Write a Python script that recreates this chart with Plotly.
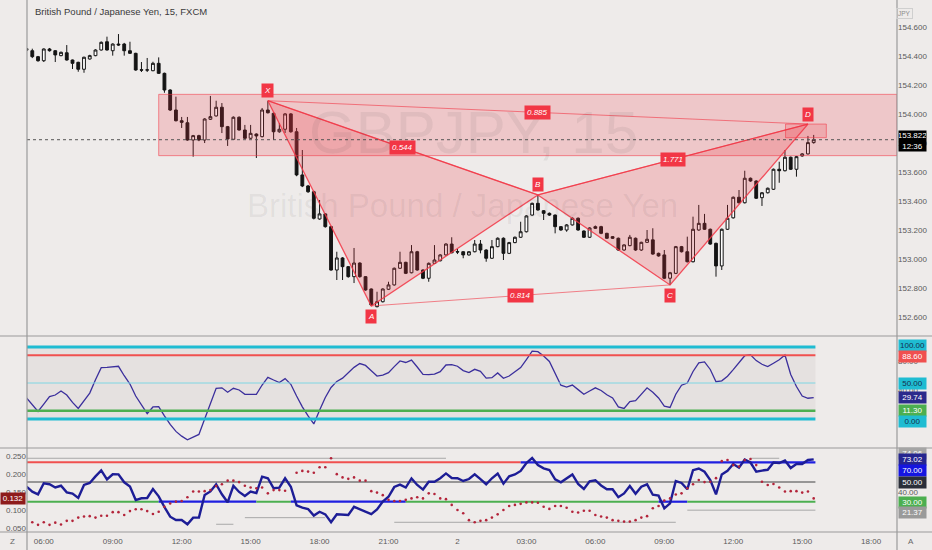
import plotly.graph_objects as go

W, H = 932, 550
BG = "#eeebea"
FONT = "Liberation Sans Narrow, Liberation Sans, Arial, sans-serif"

# ---------------- data ----------------
bar_index = list(range(-1, 137))

opens = [154.450,154.436,154.395,154.367,154.448,154.436,154.402,154.422,154.372,154.356,
         154.308,154.379,154.402,154.441,154.498,154.436,154.482,154.482,154.436,154.418,
         154.305,154.302,154.298,154.349,154.280,154.165,154.027,153.953,153.939,153.820,
         153.850,153.820,153.963,153.986,154.046,153.912,153.825,153.977,153.889,153.832,
         153.861,153.843,154.027,154.004,153.877,153.894,154.000,153.877,153.579,153.503,
         153.463,153.275,153.310,153.222,152.923,153.006,152.946,152.877,152.971,152.877,
         152.792,152.670,152.704,152.790,152.820,152.935,152.976,152.904,153.049,152.923,
         152.866,152.969,152.987,153.027,153.102,153.050,153.049,153.027,153.049,153.102,
         153.061,153.004,153.084,153.142,153.038,153.112,153.149,153.187,153.302,153.383,
         153.332,153.314,153.302,153.222,153.199,153.234,153.280,153.192,153.149,153.222,
         153.222,153.176,153.153,153.142,153.061,153.091,153.142,153.061,153.114,153.131,
         153.038,153.027,152.866,152.900,153.084,153.049,152.980,153.199,153.245,153.204,
         153.107,152.951,153.204,153.283,153.425,153.387,153.556,153.537,153.422,153.456,
         153.480,153.618,153.608,153.701,153.618,153.710,153.724,153.802]
highs = [154.455,154.450,154.400,154.452,154.455,154.440,154.430,154.475,154.375,154.360,
         154.395,154.408,154.446,154.500,154.533,154.487,154.551,154.490,154.498,154.422,
         154.358,154.386,154.360,154.390,154.285,154.170,154.119,153.979,153.979,153.855,
         153.856,153.970,154.124,154.091,154.075,153.917,153.983,153.983,153.924,153.924,
         153.866,154.041,154.091,154.010,153.937,154.006,154.006,153.903,153.751,153.510,
         153.470,153.406,153.315,153.228,153.049,153.012,152.950,153.075,152.976,152.880,
         152.796,152.773,152.796,152.842,152.940,153.049,152.980,153.095,153.055,152.928,
         152.975,153.095,153.032,153.108,153.149,153.068,153.053,153.053,153.130,153.130,
         153.066,153.130,153.148,153.148,153.117,153.154,153.256,153.301,153.388,153.441,
         153.337,153.320,153.306,153.226,153.240,153.286,153.286,153.196,153.218,153.230,
         153.228,153.180,153.157,153.147,153.100,153.165,153.147,153.118,153.199,153.211,
         153.043,153.061,152.910,153.089,153.089,153.153,153.291,153.372,153.310,153.209,
         153.112,153.209,153.372,153.430,153.475,153.608,153.561,153.542,153.461,153.492,
         153.623,153.670,153.751,153.706,153.710,153.730,153.848,153.855]
lows = [154.430,154.385,154.360,154.358,154.430,154.358,154.398,154.368,154.310,154.291,
        154.284,154.375,154.398,154.437,154.437,154.402,154.470,154.402,154.414,154.298,
        154.289,154.289,154.295,154.276,154.146,154.020,153.948,153.903,153.815,153.705,
        153.812,153.799,153.958,153.982,153.868,153.779,153.820,153.885,153.826,153.826,
        153.696,153.838,154.003,153.820,153.870,153.868,153.870,153.570,153.495,153.455,
        153.272,153.270,153.215,152.918,152.854,152.854,152.870,152.833,152.870,152.780,
        152.675,152.665,152.699,152.786,152.815,152.930,152.895,152.900,152.918,152.860,
        152.842,152.965,152.982,153.022,153.038,153.033,153.004,153.022,153.045,153.038,
        152.980,153.000,153.080,152.992,153.033,153.108,153.145,153.182,153.298,153.333,
        153.268,153.296,153.176,153.194,153.187,153.230,153.194,153.144,153.144,153.206,
        153.170,153.137,153.137,153.055,153.055,153.087,153.055,153.055,153.110,153.028,
        153.015,152.860,152.820,152.895,153.044,152.975,152.975,153.194,153.199,153.097,
        152.877,152.923,153.199,153.278,153.382,153.382,153.532,153.413,153.365,153.451,
        153.475,153.525,153.603,153.613,153.567,153.705,153.720,153.795]
closes = [154.440,154.395,154.367,154.448,154.436,154.407,154.425,154.372,154.349,154.308,
          154.391,154.402,154.441,154.494,154.441,154.482,154.476,154.436,154.418,154.303,
          154.302,154.304,154.349,154.280,154.165,154.027,153.953,153.942,153.820,153.850,
          153.820,153.965,153.981,154.046,153.912,153.827,153.977,153.889,153.832,153.866,
          153.848,154.027,154.008,153.877,153.894,154.000,153.877,153.579,153.503,153.463,
          153.280,153.310,153.222,152.923,153.006,152.946,152.877,152.971,152.877,152.785,
          152.682,152.704,152.792,152.820,152.935,152.976,152.900,153.049,152.923,152.866,
          152.969,152.992,153.027,153.102,153.042,153.047,153.027,153.049,153.102,153.061,
          153.004,153.084,153.142,153.038,153.112,153.149,153.187,153.296,153.383,153.337,
          153.314,153.302,153.222,153.199,153.234,153.280,153.199,153.149,153.213,153.211,
          153.176,153.142,153.142,153.061,153.096,153.149,153.061,153.114,153.135,153.033,
          153.020,152.866,152.904,153.084,153.049,152.980,153.204,153.245,153.204,153.102,
          152.951,153.204,153.280,153.425,153.387,153.556,153.537,153.418,153.456,153.487,
          153.618,153.608,153.701,153.618,153.705,153.724,153.802,153.822]

osc1 = [29.2,19.4,10.4,20.6,31,33.3,38.9,33.3,23,14.6,
        25.7,36,54.6,71.4,71.7,72.4,73.2,60.1,48.6,31.9,
        18.8,7.5,16.7,17.1,4.4,-7.6,-17.2,-23.8,-28.9,-25,
        -21.4,0,21.4,42.6,43.3,37.2,42.6,40.3,34.4,34.3,
        34.3,47.2,57.9,54.2,50.7,56.1,48.2,31.9,16.9,4.3,
        -6.9,12.2,29.9,43.8,52.2,56.7,64.2,71.7,77,74.4,
        67.1,59.7,61,64.4,72.8,80.6,78.5,81.8,72.2,61.9,
        61.7,62.2,65.7,75,75.6,73.3,67.2,64.4,69,66.3,
        56.7,57.4,64,56.5,59.7,65,71.4,82.6,94.2,93.6,
        87.5,79.9,62.8,47,44.2,47.2,40.8,34.3,38.9,43.3,
        39.6,33.6,29.2,16.9,14.7,24.3,25.4,34,43.3,37.2,
        29.2,17.8,16,34.4,47,50,66,78.1,79.4,68.8,
        51.8,53,59.4,68.6,77.8,87.9,89.2,81.1,76,72.8,
        77.5,82.2,88.9,61.8,45.1,31.9,28.8,29.74]

osc2 = [45.4,40.2,37.5,48.7,47.7,44.4,46.2,39.5,38.2,33.8,
        47,49,55.7,61.7,52.7,57.8,57.7,49.7,45.4,31.7,
        33.5,33.8,42.9,35.4,24.6,14.8,11.4,11.4,7.1,13.8,
        14,36.8,40.4,47.7,37.5,29.4,46.2,39.9,35.8,40.2,
        38.8,55.4,53.8,43.6,44.2,53.8,45.2,26.2,23.9,22.6,
        15.9,19.8,17.1,9.2,17.2,17.2,16.5,24.8,22.2,19.7,
        17.3,22.1,30.2,35,44.9,47.4,44.4,53.6,47,42.3,
        50.3,50.3,53.9,58.7,54.1,53.8,51,53,57.8,53,
        47.7,53.8,58.6,48.3,55.8,57.7,61.2,69.3,74.4,67.3,
        63.9,62.2,52.7,49.7,53.8,57.7,48,42.9,50.7,51.8,
        46.5,42.7,42.6,34.6,38.4,45.9,38,45.2,47.6,37.1,
        36.1,23.3,28.4,51,49,42.6,62,63.7,60.4,52,
        37.5,57.6,61.4,68.3,64.5,72.8,69.8,60.5,61.6,62.4,
        69.8,69.3,71.8,64.2,68.3,68.3,72.3,73.02]

dots = [None,0.066,0.059,0.066,0.059,0.065,0.060,0.070,0.070,0.079,
        0.082,0.083,0.079,0.084,0.084,0.094,0.094,0.086,0.097,0.102,
        0.102,0.097,0.089,0.095,0.109,0.118,0.123,0.125,0.135,0.151,
        0.151,0.152,0.155,0.166,0.171,0.181,0.181,0.177,0.167,0.162,
        0.160,0.162,0.146,0.155,0.155,0.153,None,0.203,0.208,0.206,
        0.203,0.218,0.218,0.243,0.199,0.190,0.186,0.190,0.181,0.181,
        0.152,0.148,0.141,0.128,0.125,0.125,0.128,0.132,0.135,0.132,
        0.146,0.144,0.132,0.130,0.114,0.100,0.091,0.072,0.066,0.070,
        0.072,0.079,0.088,0.100,0.111,0.114,0.117,0.121,0.121,0.120,
        0.109,0.103,0.111,0.111,0.106,0.095,0.093,0.098,0.098,0.086,
        0.082,0.079,0.072,0.070,0.068,0.068,0.072,0.079,0.083,0.105,
        0.111,0.126,0.132,0.143,0.146,0.160,0.171,0.183,0.177,0.178,
        0.188,0.235,0.238,0.224,0.220,0.238,0.241,0.224,0.178,0.169,
        0.172,0.162,0.151,0.152,0.152,0.148,0.151,0.132]

tick_idx = [2, 14, 26, 38, 50, 62, 74, 86, 98, 110, 122, 134, 146]
tick_text = ["06:00", "09:00", "12:00", "15:00", "18:00", "21:00", "2",
             "03:00", "06:00", "09:00", "12:00", "15:00", "18:00"]
price_ticks = [152.6, 152.8, 153.0, 153.2, 153.4, 153.6, 153.8, 154.0, 154.2, 154.4, 154.6]
last_price = 153.822

# harmonic pattern
pat_names = ["X", "A", "B", "C", "D"]
pat_x = [41, 59, 88, 111, 135]
pat_y = [154.091, 152.675, 153.441, 152.820, 153.930]
ratio_pairs = [("0.544", 0, 2), ("0.814", 1, 3), ("0.885", 0, 4), ("1.771", 2, 4)]
zone_x = [22, 150.5]
zone_y = [153.712, 154.135]
dzone_x = [131.1, 138.2]
dzone_y = [153.836, 153.930]

# oscillator 1 levels
osc1_levels = [(100, "#1fbcd2", 3), (88.6, "#f0504f", 2), (50, "#7fd6e3", 1), (11.3, "#4caf50", 2.5), (0, "#1fbcd2", 3)]
# oscillator 2 levels: (level, x0, x1, colour, width)
osc2_segments = [
    (70, -1, 85, "#f0504f", 2), (70, 85, 136.3, "#1f1fe0", 2.2),
    (50, -1, 136.3, "#7a7a7a", 1.5),
    (30, -1, 22, "#4caf50", 2), (30, 22, 39, "#1f1fe0", 2.2), (30, 39, 45, "#4caf50", 2),
    (30, 45, 65, "#1f1fe0", 2.2), (30, 65, 109, "#4caf50", 2), (30, 109, 114, "#1f1fe0", 2.2),
    (30, 114, 136.3, "#4caf50", 2),
    (74.1, -1, 72, "#a8a8a8", 1), (74.1, 125, 130, "#a8a8a8", 1),
    (7.1, 32, 35, "#a8a8a8", 1), (13.8, 37, 51, "#a8a8a8", 1),
    (9.1, 63, 112, "#a8a8a8", 1), (21.4, 114, 136.3, "#a8a8a8", 1),
]

# ---------------- geometry helpers ----------------
def px(x):
    return x / W

def py(y):
    return 1 - y / H

X0, X1 = -0.92, 150.5

fig = go.Figure()

fig.add_trace(go.Candlestick(
    x=bar_index, open=opens, high=highs, low=lows, close=closes,
    increasing=dict(line=dict(color="#141414", width=1), fillcolor="#ffffff"),
    decreasing=dict(line=dict(color="#141414", width=1), fillcolor="#141414"),
    whiskerwidth=0, hoverinfo="skip", showlegend=False, xaxis="x", yaxis="y"))

PINK = "rgba(242,54,69,0.22)"
RED = "#f23645"
for tri in ([0, 1, 2], [2, 3, 4]):
    fig.add_trace(go.Scatter(
        x=[pat_x[k] for k in tri] + [pat_x[tri[0]]],
        y=[pat_y[k] for k in tri] + [pat_y[tri[0]]],
        mode="lines", fill="toself", fillcolor=PINK,
        line=dict(color="rgba(242,54,69,0.85)", width=1.3),
        hoverinfo="skip", showlegend=False, xaxis="x", yaxis="y"))
for _, a, b in ratio_pairs:
    fig.add_trace(go.Scatter(
        x=[pat_x[a], pat_x[b]], y=[pat_y[a], pat_y[b]], mode="lines",
        line=dict(color="rgba(242,54,69,0.6)", width=1),
        hoverinfo="skip", showlegend=False, xaxis="x", yaxis="y"))

fig.add_trace(go.Scatter(x=bar_index, y=osc1, mode="lines",
                         line=dict(color="#3b2f9c", width=1.3),
                         hoverinfo="skip", showlegend=False, xaxis="x", yaxis="y2"))
fig.add_trace(go.Scatter(x=bar_index, y=osc2, mode="lines",
                         line=dict(color="#1d1d96", width=2.4),
                         hoverinfo="skip", showlegend=False, xaxis="x", yaxis="y3"))
fig.add_trace(go.Scatter(x=bar_index, y=dots, mode="markers",
                         marker=dict(color="#b3243a", size=2.6),
                         hoverinfo="skip", showlegend=False, xaxis="x", yaxis="y4"))

shapes = []
# zones
shapes.append(dict(type="rect", xref="x", yref="y", x0=zone_x[0], x1=zone_x[1], y0=zone_y[0], y1=zone_y[1],
                   fillcolor="rgba(242,54,69,0.2)", line=dict(color="rgba(242,54,69,0.55)", width=1)))
shapes.append(dict(type="rect", xref="x", yref="y", x0=dzone_x[0], x1=dzone_x[1], y0=dzone_y[0], y1=dzone_y[1],
                   fillcolor="rgba(242,54,69,0.2)", line=dict(color="rgba(242,54,69,0.55)", width=1)))
# last price dotted line
shapes.append(dict(type="line", xref="x", yref="y", x0=X0, x1=X1, y0=last_price, y1=last_price,
                   line=dict(color="#555555", width=1, dash="dot")))
# oscillator 1 band + levels
shapes.append(dict(type="rect", xref="x", yref="y2", x0=X0, x1=136.3, y0=0, y1=100,
                   fillcolor="rgba(110,100,100,0.07)", line=dict(width=0), layer="below"))
for lv, col, wd in osc1_levels:
    shapes.append(dict(type="line", xref="x", yref="y2", x0=X0, x1=136.3, y0=lv, y1=lv,
                       line=dict(color=col, width=wd)))
for lv, a, b, col, wd in osc2_segments:
    shapes.append(dict(type="line", xref="x", yref="y3", x0=max(a, X0), x1=b, y0=lv, y1=lv,
                       line=dict(color=col, width=wd), layer="below"))
# pane separators
SEP = "#9a9a9a"
for yy in (336, 448, 532):
    shapes.append(dict(type="line", xref="paper", yref="paper", x0=0, x1=1, y0=py(yy), y1=py(yy),
                       line=dict(color=SEP, width=1.2)))
for xx in (27, 897):
    shapes.append(dict(type="line", xref="paper", yref="paper", x0=px(xx), x1=px(xx), y0=0, y1=1,
                       line=dict(color=SEP, width=1.2)))

ann = []
# title
ann.append(dict(x=px(33), y=py(11), xref="paper", yref="paper", xanchor="left", yanchor="middle",
                text="British Pound / Japanese Yen, 15, FXCM", showarrow=False,
                font=dict(size=9.5, color="#3a3a3a", family=FONT)))
# watermark
ann.append(dict(x=px(474), y=py(132), xref="paper", yref="paper", yanchor="middle", text="GBPJPY, 15",
                showarrow=False, font=dict(size=60, color="rgba(60,50,50,0.075)", family=FONT)))
ann.append(dict(x=px(462), y=py(205), xref="paper", yref="paper", yanchor="middle",
                text="British Pound / Japanese Yen",
                showarrow=False, font=dict(size=33, color="rgba(60,50,50,0.07)", family=FONT)))
# pattern point labels
offs = [10, -11, 10, -11, 10]
for name, xx, yy, o in zip(pat_names, pat_x, pat_y, offs):
    ann.append(dict(x=xx, y=yy, xref="x", yref="y", text="<i>%s</i>" % name, showarrow=False,
                    yshift=o, bgcolor=RED, borderpad=2,
                    font=dict(size=8, color="#ffffff", family=FONT)))
for txt, a, b in ratio_pairs:
    ann.append(dict(x=(pat_x[a] + pat_x[b]) / 2, y=(pat_y[a] + pat_y[b]) / 2, xref="x", yref="y",
                    text="<i>%s</i>" % txt, showarrow=False, bgcolor=RED, borderpad=2,
                    font=dict(size=8, color="#ffffff", family=FONT)))
# right-axis labels
def rbox(val, yref, txt, bg, fg="#ffffff", shift=0):
    ann.append(dict(x=px(898), y=val, xref="paper", yref=yref, xanchor="left", yanchor="middle",
                    text=txt, showarrow=False, bgcolor=bg, width=27, height=11, align="center",
                    yshift=shift, borderpad=0, font=dict(size=8, color=fg, family=FONT)))

rbox(last_price, "y", "153.822<br>12:36", "#000000", shift=-1)
ann[-1]["height"] = 20
rbox(100, "y2", "100.00", "#1fbcd2", "#16304d", 2)
rbox(88.6, "y2", "88.60", "#f0504f", "#ffffff", -1)
rbox(50, "y2", "50.00", "#1fbcd2", "#16304d")
rbox(29.74, "y2", "29.74", "#2b2a8c")
rbox(11.3, "y2", "11.30", "#4caf50")
rbox(0, "y2", "0.00", "#1fbcd2", "#16304d", -2)
rbox(74.1, "y3", "74.06", "#a5a5a5", "#ffffff", 5)
rbox(73.02, "y3", "73.02", "#26268f")
rbox(70, "y3", "70.00", "#1515e0", "#ffffff", -8)
rbox(50, "y3", "50.00", "#2a2e39")
rbox(30, "y3", "30.00", "#4caf50", "#ffffff", -1)
rbox(21.37, "y3", "21.37", "#9a9a9a", "#ffffff", -2)
# left label
ann.append(dict(x=px(26), y=0.132, xref="paper", yref="y4", xanchor="right", yanchor="middle",
                text="0.132", showarrow=False, bgcolor="#8e1b1b", width=24, height=11, borderpad=0,
                font=dict(size=8, color="#ffffff", family=FONT)))
ann.append(dict(x=px(913), y=py(8), xref="paper", yref="paper", text="JPY", showarrow=False,
                bordercolor="#cfcfcf", borderwidth=1, borderpad=1,
                font=dict(size=6.5, color="#8a8a8a", family=FONT)))
ann.append(dict(x=px(8), y=py(541), xref="paper", yref="paper", yanchor="middle", text="Z",
                showarrow=False, font=dict(size=8, color="#666666", family=FONT)))
ann.append(dict(x=px(916), y=py(541), xref="paper", yref="paper", yanchor="middle", text="A",
                showarrow=False, font=dict(size=8, color="#666666", family=FONT)))

axis_common = dict(showgrid=False, zeroline=False, showline=False, ticks="", fixedrange=True)
tf = dict(size=8, color="#5a5a5a", family=FONT)

fig.update_layout(
    width=W, height=H, margin=dict(l=0, r=0, t=0, b=0),
    paper_bgcolor=BG, plot_bgcolor=BG, showlegend=False,
    shapes=shapes, annotations=ann, hovermode=False,
    xaxis=dict(domain=[px(27), px(897)], range=[X0, X1], anchor="y3",
               tickvals=tick_idx, ticktext=tick_text, tickfont=tf, ticklabelstandoff=3,
               rangeslider=dict(visible=False), **axis_common),
    yaxis=dict(domain=[py(335), 1], range=[152.4745, 154.786], side="right", anchor="x",
               tickvals=price_ticks, ticktext=["%.3f" % v for v in price_ticks], tickfont=tf,
               **axis_common),
    yaxis2=dict(domain=[py(447), py(337)], range=[-38.9, 113.9], side="right", anchor="x",
                tickvals=[40, 80], ticktext=["40.00", "80.00"], tickfont=tf, **axis_common),
    yaxis3=dict(domain=[py(532), py(449)], range=[-0.76, 83.5], side="right", anchor="x",
                tickvals=[40], ticktext=["40.00"], tickfont=tf, **axis_common),
    yaxis4=dict(overlaying="y3", range=[0.0392, 0.2685], side="left", anchor="x",
                tickvals=[0.05, 0.1, 0.15, 0.2, 0.25],
                ticktext=["0.050", "0.100", "0.150", "0.200", "0.250"], tickfont=tf, **axis_common),
)

fig.write_html("out.html", config={"displayModeBar": False, "staticPlot": True},
               post_script="document.body.style.margin='0';document.body.style.padding='0';"
                           "document.body.style.background='%s';" % BG)
